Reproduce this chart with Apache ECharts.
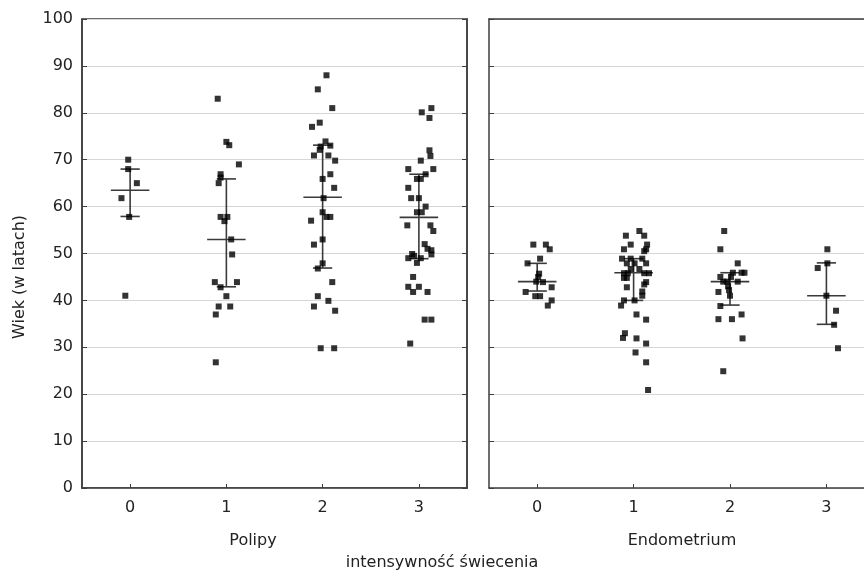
<!DOCTYPE html>
<html><head><meta charset="utf-8">
<script src="https://cdn.jsdelivr.net/npm/echarts@6/dist/echarts.min.js"></script>
<style>html,body{margin:0;padding:0;background:#fff}#c{width:864px;height:572px}</style>
</head><body><div id="c"></div>
<script>
const categories = [0, 1, 2, 3];
const panelNames = ['Polipy', 'Endometrium'];
const xTitle = 'intensywność świecenia';
const yTitle = 'Wiek (w latach)';

// Polipy panel: ages per category and horizontal jitter (in category units)
const polipyAge = [
  [70.0, 68.0, 65.0, 61.8, 57.8, 41.0],
  [83.0, 73.8, 73.1, 69.0, 66.9, 66.2, 65.0, 57.8, 57.8, 56.9, 53.0, 49.8, 43.9, 43.9, 42.8, 40.9, 38.7, 38.7, 37.0, 26.8],
  [88.0, 85.0, 81.0, 77.9, 77.0, 73.9, 72.8, 73.0, 72.1, 70.9, 70.9, 69.8, 66.9, 65.9, 64.0, 61.8, 58.8, 57.8, 57.8, 57.0, 53.0, 51.9, 47.9, 46.8, 43.9, 40.9, 39.9, 38.7, 37.8, 29.8, 29.8],
  [81.0, 80.1, 78.9, 72.0, 70.8, 69.8, 68.0, 68.0, 66.9, 65.9, 65.9, 64.0, 61.8, 61.8, 60.0, 58.8, 58.8, 56.0, 56.0, 54.8, 52.0, 51.0, 50.7, 49.8, 49.9, 49.0, 49.5, 49.0, 48.0, 45.0, 42.9, 42.9, 41.8, 41.8, 35.9, 35.9, 30.8]
];
const polipyJitter = [
  [-0.02, -0.02, 0.07, -0.09, -0.01, -0.05],
  [-0.09, 0.00, 0.03, 0.13, -0.06, -0.06, -0.08, -0.06, 0.01, -0.02, 0.05, 0.06, -0.12, 0.11, -0.06, 0.00, -0.08, 0.04, -0.11, -0.11],
  [0.04, -0.05, 0.10, -0.03, -0.11, 0.03, -0.02, 0.08, -0.03, -0.09, 0.06, 0.13, 0.08, 0.00, 0.12, 0.01, 0.00, 0.04, 0.08, -0.12, 0.00, -0.09, 0.00, -0.05, 0.10, -0.05, 0.06, -0.09, 0.13, -0.02, 0.12],
  [0.13, 0.03, 0.11, 0.11, 0.12, 0.02, -0.11, 0.15, 0.07, -0.02, 0.02, -0.11, -0.08, 0.00, 0.07, -0.02, 0.03, -0.12, 0.12, 0.15, 0.06, 0.09, 0.13, 0.13, -0.07, -0.11, -0.05, 0.02, -0.02, -0.06, -0.11, 0.00, -0.06, 0.09, 0.06, 0.13, -0.09]
];
const polipyMedian = [63.5, 53.0, 62.0, 57.7];
const polipyQ1 = [57.9, 42.9, 46.9, 48.9];
const polipyQ3 = [68.0, 65.9, 73.1, 66.9];

// Endometrium panel
const endoAge = [
  [51.9, 51.9, 50.9, 48.9, 47.9, 45.7, 45.0, 44.0, 43.9, 42.8, 41.8, 40.9, 40.9, 40.0, 38.9],
  [54.8, 53.8, 53.8, 51.9, 51.9, 50.9, 50.9, 50.5, 48.9, 48.9, 48.9, 47.9, 47.9, 47.9, 46.7, 46.7, 45.8, 45.8, 45.8, 45.8, 44.8, 44.8, 43.9, 43.4, 42.8, 41.9, 41.0, 40.0, 40.0, 38.9, 37.0, 35.9, 33.0, 32.0, 31.9, 30.8, 28.9, 26.8, 20.9],
  [54.8, 50.9, 47.9, 45.9, 45.9, 45.9, 45.0, 45.0, 44.0, 44.0, 44.0, 43.0, 42.2, 41.8, 41.0, 38.8, 37.0, 36.0, 36.0, 31.9, 24.9],
  [50.9, 47.9, 46.9, 41.0, 37.8, 34.8, 29.8]
];
const endoJitter = [
  [-0.04, 0.09, 0.13, 0.03, -0.10, 0.02, 0.01, -0.01, 0.06, 0.15, -0.12, -0.02, 0.03, 0.15, 0.11],
  [0.06, -0.08, 0.11, -0.03, 0.14, -0.10, 0.13, 0.11, -0.12, -0.03, 0.09, -0.07, 0.01, 0.13, -0.03, 0.06, -0.10, -0.06, 0.11, 0.16, -0.10, -0.07, 0.13, 0.11, -0.07, 0.09, 0.09, -0.10, 0.01, -0.13, 0.03, 0.13, -0.09, -0.11, 0.03, 0.13, 0.02, 0.13, 0.15],
  [-0.06, -0.10, 0.08, 0.03, 0.12, 0.15, -0.10, 0.01, -0.07, -0.03, 0.08, -0.02, -0.01, -0.12, 0.00, -0.10, 0.12, -0.12, 0.02, 0.13, -0.07],
  [0.01, 0.01, -0.09, 0.00, 0.10, 0.08, 0.12]
];
const endoMedian = [44.0, 45.9, 44.0, 41.0];
const endoQ1 = [42.0, 40.0, 39.0, 34.9];
const endoQ3 = [47.9, 48.9, 45.9, 48.0];

// visible x range of each panel (the right panel is cut off by the picture edge)
const polipyRange = [-0.5, 3.5];
const endoRange = [-0.5, 3.39];

function scatterData(ages, jit) {
  const out = [];
  categories.forEach((c, ci) => {
    ages[ci].forEach((a, i) => out.push([c + jit[ci][i], a]));
  });
  return out;
}
function barData(med, q1, q3) {
  return categories.map((c, ci) => [c, q1[ci], med[ci], q3[ci]]);
}

const FONT = 'DejaVu Sans';
const TXT = '#222';
const AX = '#3c3c3c';

function renderBar(params, api) {
  const c = api.value(0), lo = api.value(1), md = api.value(2), hi = api.value(3);
  const pLo = api.coord([c, lo]), pHi = api.coord([c, hi]);
  const capL = api.coord([c - 0.1, lo]), capR = api.coord([c + 0.1, lo]);
  const capL2 = api.coord([c - 0.1, hi]), capR2 = api.coord([c + 0.1, hi]);
  const mL = api.coord([c - 0.2, md]), mR = api.coord([c + 0.2, md]);
  const st = { stroke: '#3a3a3a', lineWidth: 1.6 };
  return {
    type: 'group',
    children: [
      { type: 'line', shape: { x1: pLo[0], y1: pLo[1], x2: pHi[0], y2: pHi[1] }, style: st },
      { type: 'line', shape: { x1: capL[0], y1: capL[1], x2: capR[0], y2: capR[1] }, style: st },
      { type: 'line', shape: { x1: capL2[0], y1: capL2[1], x2: capR2[0], y2: capR2[1] }, style: st },
      { type: 'line', shape: { x1: mL[0], y1: mL[1], x2: mR[0], y2: mR[1] }, style: st }
    ]
  };
}

const grids = [
  { left: 82, top: 19, width: 385, height: 469, show: true, borderColor: AX, borderWidth: 1.5, backgroundColor: 'transparent' },
  { left: 489, top: 19, right: 0, height: 469, show: false }
];

function xAx(gi, range) {
  return {
    type: 'value', gridIndex: gi, min: range[0], max: range[1],
    splitLine: { show: false },
    axisLine: { show: true, onZero: false, lineStyle: { color: AX, width: 1.5 } },
    axisTick: { show: true, inside: true, length: 4, customValues: categories, lineStyle: { color: AX } },
    axisLabel: { show: true, customValues: categories, margin: 12, fontFamily: FONT, fontSize: 16, color: TXT }
  };
}
function topAx(gi, range) {
  return {
    type: 'value', gridIndex: gi, min: range[0], max: range[1], position: 'top',
    splitLine: { show: false },
    axisLine: { show: true, onZero: false, lineStyle: { color: AX, width: 1.5 } },
    axisTick: { show: false }, axisLabel: { show: false }
  };
}
function yAx(gi, pos, labels, grid) {
  return {
    type: 'value', gridIndex: gi, min: 0, max: 100, interval: 10, position: pos,
    splitLine: { show: grid, lineStyle: { color: '#d6d6d6', width: 1.2 } },
    axisLine: { show: true, onZero: false, lineStyle: { color: AX, width: 1.5 } },
    axisTick: { show: true, inside: true, length: 5, lineStyle: { color: AX } },
    axisLabel: { show: labels, margin: 9, fontFamily: FONT, fontSize: 16, color: TXT }
  };
}

const chart = echarts.init(document.getElementById('c'), null, { renderer: 'canvas' });
chart.setOption({
  animation: false,
  backgroundColor: '#fff',
  grid: grids,
  xAxis: [xAx(0, polipyRange), xAx(1, endoRange), topAx(1, endoRange)],
  yAxis: [yAx(0, 'left', true, true), yAx(0, 'right', false, false), yAx(1, 'left', false, true)],
  series: [
    { type: 'custom', xAxisIndex: 0, yAxisIndex: 0, renderItem: renderBar, data: barData(polipyMedian, polipyQ1, polipyQ3), z: 3 },
    { type: 'custom', xAxisIndex: 1, yAxisIndex: 2, renderItem: renderBar, data: barData(endoMedian, endoQ1, endoQ3), z: 3 },
    { type: 'scatter', xAxisIndex: 0, yAxisIndex: 0, symbol: 'rect', symbolSize: 6, itemStyle: { color: '#000' }, data: scatterData(polipyAge, polipyJitter), z: 4 },
    { type: 'scatter', xAxisIndex: 1, yAxisIndex: 2, symbol: 'rect', symbolSize: 6, itemStyle: { color: '#000' }, data: scatterData(endoAge, endoJitter), z: 4 }
  ],
  graphic: [
    { type: 'text', x: 253, y: 541, style: { text: panelNames[0], font: '16px "' + FONT + '"', fill: TXT, align: 'center', verticalAlign: 'middle' } },
    { type: 'text', x: 682, y: 541, style: { text: panelNames[1], font: '16px "' + FONT + '"', fill: TXT, align: 'center', verticalAlign: 'middle' } },
    { type: 'text', x: 442, y: 563, style: { text: xTitle, font: '16px "' + FONT + '"', fill: TXT, align: 'center', verticalAlign: 'middle' } },
    { type: 'text', x: 20, y: 277, rotation: Math.PI / 2, style: { text: yTitle, font: '16px "' + FONT + '"', fill: TXT, align: 'center', verticalAlign: 'middle' } }
  ]
});
</script>
</body></html>
